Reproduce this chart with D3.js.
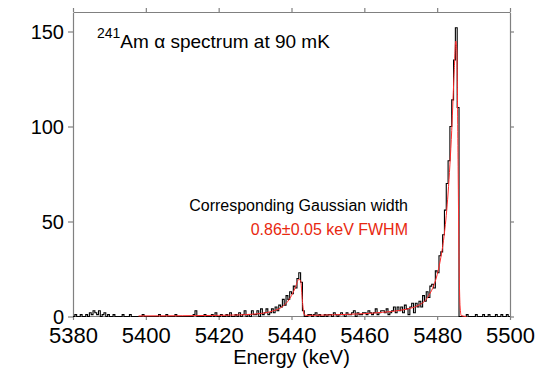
<!DOCTYPE html>
<html>

<head>
  <title>241Am alpha spectrum</title>
</head>

<style>
  body,
  html {
    margin: 0;
    padding: 0;
    background: #fff;
  }

  text {
    font-family: "Liberation Sans", Arial, sans-serif;
  }
</style>

<body>

  <svg id="svg" width="543" height="372"></svg>

  <script src="https://d3js.org/d3.v7.min.js"></script>
  <script>

    // histogram: 0.5 keV bins starting at 5380 keV (counts)
    const binStart = 5380
    const binWidth = 0.5
    const counts = [
      0, 1, 0, 0, 1, 0, 0, 1, 0, 2, // 5380
      1, 3, 2, 1, 3, 0, 1, 2, 0, 1, // 5385
      0, 0, 1, 0, 0, 0, 0, 1, 0, 0, // 5390
      0, 1, 0, 0, 0, 0, 0, 0, 1, 0, // 5395
      0, 0, 0, 0, 0, 0, 0, 1, 0, 0, // 5400
      0, 1, 0, 0, 0, 0, 1, 0, 0, 0, // 5405
      0, 0, 0, 0, 0, 0, 1, 3, 0, 0, // 5410
      0, 0, 1, 0, 0, 0, 1, 0, 2, 0, // 5415
      0, 1, 0, 0, 1, 0, 2, 0, 0, 1, // 5420
      0, 2, 0, 1, 3, 0, 1, 0, 3, 1, // 5425
      1, 3, 0, 4, 1, 2, 4, 1, 2, 4, // 5430
      2, 5, 3, 6, 5, 9, 6, 11, 9, 13, // 5435
      12, 16, 15, 20, 23, 18, 3, 0, 0, 1, // 5440
      1, 0, 1, 2, 0, 1, 0, 0, 1, 0, // 5445
      1, 1, 0, 2, 1, 0, 1, 2, 1, 0, // 5450
      2, 1, 1, 2, 3, 0, 2, 1, 1, 2, // 5455
      2, 1, 3, 2, 1, 2, 4, 1, 2, 3, // 5460
      3, 2, 4, 1, 2, 3, 5, 2, 5, 3, // 5465
      5, 2, 6, 4, 1, 5, 7, 2, 7, 5, // 5470
      8, 5, 11, 8, 13, 10, 16, 17, 15, 24, // 5475
      23, 32, 34, 43, 56, 70, 82, 100, 114, 135, // 5480
      152, 110, 0, 0, 0, 0, 1, 0, 0, 0, // 5485
      0, 1, 0, 0, 0, 1, 0, 0, 1, 0, // 5490
      0, 0, 1, 0, 0, 1, 0, 0, 1, 0, // 5495
      0
    ]

    // fitted line shape (keV, counts)
    const fitEnergy = [5398, 5410, 5420, 5425, 5430, 5433, 5435, 5437, 5438, 5439,
      5440, 5441, 5442, 5442.5, 5443, 5443.5, 5444, 5450, 5455, 5460,
      5465, 5470, 5473, 5475, 5477, 5478, 5479, 5480, 5481, 5482,
      5483, 5484, 5484.7, 5485.1, 5485.4, 5485.7, 5486, 5486.3, 5486.6, 5488]
    const fitCounts = [0.3, 0.4, 0.6, 0.8, 1.3, 2, 3, 4.5, 6, 8,
      11, 15, 19.5, 19, 8, 1, 0.6, 0.8, 1.1, 1.5,
      2.2, 3.3, 4.5, 6, 9, 12, 16, 22, 31, 44,
      65, 98, 130, 145, 140, 90, 30, 5, 0.5, 0]

    const xTicks = [5380, 5400, 5420, 5440, 5460, 5480, 5500]
    const yTicks = [0, 50, 100, 150]

    const svg = d3.select('#svg')

    const xscale = d3.scaleLinear()
      .domain([5380, 5500])
      .range([73, 510])

    const yscale = d3.scaleLinear()
      .domain([0, 160])
      .range([316.5, 12.5])

    // axes
    const bottomAxis = svg.append('g')
      .attr('transform', 'translate(0,316)')
      .call(d3.axisBottom(xscale).tickValues(xTicks).tickFormat(d3.format('d'))
        .tickSize(4).tickSizeOuter(0).tickPadding(7))
    svg.append('g')
      .attr('transform', 'translate(0,12)')
      .call(d3.axisTop(xscale).tickValues(xTicks).tickSize(4).tickSizeOuter(0).tickFormat(''))
    const leftAxis = svg.append('g')
      .attr('transform', 'translate(73,0)')
      .call(d3.axisLeft(yscale).tickValues(yTicks).tickSize(5).tickSizeOuter(0).tickPadding(4))
    svg.append('g')
      .attr('transform', 'translate(510,0)')
      .call(d3.axisRight(yscale).tickValues(yTicks).tickSize(4).tickSizeOuter(0).tickFormat(''))

    svg.selectAll('.domain, .tick line')
      .attr('stroke', '#808080')
      .attr('stroke-width', 1.2)

    bottomAxis.selectAll('.tick text')
      .attr('font-size', 22)
      .attr('font-family', '"Liberation Sans", Arial, sans-serif')
      .attr('fill', '#000')
    leftAxis.selectAll('.tick text')
      .attr('font-size', 20)
      .attr('font-family', '"Liberation Sans", Arial, sans-serif')
      .attr('fill', '#000')
      .attr('dy', '0.36em')

    // histogram as a step line
    const hist = counts.map((c, i) => ({ e: binStart + i * binWidth, c: c }))
    const stepgen = d3.line()
      .x(d => xscale(d.e))
      .y(d => yscale(d.c))
      .curve(d3.curveStepAfter)

    svg.append('path')
      .attr('d', stepgen(hist))
      .attr('fill', 'none')
      .attr('stroke', '#000')
      .attr('stroke-width', 1.1)

    // fit curve
    const fit = fitEnergy.map((e, i) => ({ e: e, c: fitCounts[i] }))
    const fitgen = d3.line()
      .x(d => xscale(d.e))
      .y(d => yscale(d.c))
      .curve(d3.curveMonotoneX)

    svg.append('path')
      .attr('d', fitgen(fit))
      .attr('fill', 'none')
      .attr('stroke', '#ff2a2a')
      .attr('stroke-width', 1)

    // labels
    svg.append('text')
      .attr('x', (73 + 510) / 2)
      .attr('y', 364)
      .attr('text-anchor', 'middle')
      .attr('font-size', 20)
      .text('Energy (keV)')

    const title = svg.append('text')
      .attr('x', 97)
      .attr('y', 47.5)
      .attr('font-size', 19)
    title.append('tspan')
      .attr('font-size', 14)
      .attr('dy', -10)
      .text('241')
    title.append('tspan')
      .attr('dy', 10)
      .text('Am α spectrum at 90 mK')

    svg.append('text')
      .attr('x', 408)
      .attr('y', 211)
      .attr('text-anchor', 'end')
      .attr('font-size', 16)
      .text('Corresponding Gaussian width')

    svg.append('text')
      .attr('x', 408)
      .attr('y', 235)
      .attr('text-anchor', 'end')
      .attr('font-size', 16)
      .attr('fill', '#e8280f')
      .text('0.86±0.05 keV FWHM')

  </script>

</body>

</html>
